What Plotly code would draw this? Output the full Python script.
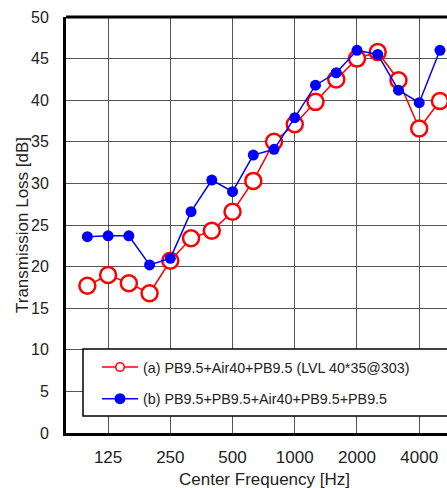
import plotly.graph_objects as go

freqs = ["100", "125", "160", "200", "250", "315", "400", "500", "630", "800",
         "1000", "1250", "1600", "2000", "2500", "3150", "4000", "5000"]
tl_a = [17.7, 19.0, 18.0, 16.8, 20.7, 23.4, 24.3, 26.6, 30.3, 35.0,
        37.1, 39.8, 42.5, 45.0, 45.8, 42.4, 36.6, 39.9]
tl_b = [23.6, 23.7, 23.7, 20.2, 21.0, 26.6, 30.4, 29.0, 33.4, 34.1,
        37.9, 41.8, 43.3, 46.0, 45.5, 41.2, 39.7, 46.0]
tick_labels = ["125", "250", "500", "1000", "2000", "4000"]
name_a = "(a) PB9.5+Air40+PB9.5 (LVL 40*35@303)"
name_b = "(b) PB9.5+PB9.5+Air40+PB9.5+PB9.5"

W, H = 447, 488
ML, MR, MT, MB = 66, 0, 17, 55
PW, PH = W - ML - MR, H - MT - MB

def px_x(p):
    return (p - ML) / PW

def px_y(p):
    return (H - MB - p) / PH

FONT = "Liberation Sans, Arial, sans-serif"
RED, BLUE = "#ff0000", "#0000ff"

fig = go.Figure()
# data traces
fig.add_trace(go.Scatter(
    x=freqs, y=tl_a, name=name_a, mode="lines+markers", showlegend=False,
    line=dict(color=RED, width=1.5),
    marker=dict(symbol="circle", size=16, color="white",
                line=dict(color=RED, width=2.5)),
))
fig.add_trace(go.Scatter(
    x=freqs, y=tl_b, name=name_b, mode="lines+markers", showlegend=False,
    line=dict(color=BLUE, width=1.5),
    marker=dict(symbol="circle", size=11, color=BLUE),
))
# legend entries (small legend symbols as in the reference)
fig.add_trace(go.Scatter(
    x=[None], y=[None], name=name_a, mode="lines+markers", legendgroup="a",
    line=dict(color=RED, width=1.5),
    marker=dict(symbol="circle", size=8.5, color="white",
                line=dict(color=RED, width=1.5)),
))
fig.add_trace(go.Scatter(
    x=[None], y=[None], name=name_b, mode="lines+markers", legendgroup="b",
    line=dict(color=BLUE, width=1.5),
    marker=dict(symbol="circle", size=11, color=BLUE),
))

fig.update_layout(
    width=W, height=H,
    margin=dict(l=ML, r=MR, t=MT, b=MB, pad=0),
    paper_bgcolor="white", plot_bgcolor="white",
    font=dict(family=FONT, color="#222222", size=16),
    showlegend=True,
    legend=dict(x=px_x(97), y=px_y(383.3), xanchor="left", yanchor="middle",
                bgcolor="rgba(0,0,0,0)", borderwidth=0,
                font=dict(size=14.3, color="#222222"),
                tracegroupgap=10, itemwidth=36),
    xaxis=dict(type="category", categoryorder="array", categoryarray=freqs,
               range=[-1.03, 17.34], tickvals=tick_labels, ticktext=tick_labels,
               showgrid=True, gridcolor="#555555", gridwidth=1,
               showline=True, linecolor="black", linewidth=3,
               ticks="", ticklabelstandoff=7, tickfont=dict(size=17),
               zeroline=False, fixedrange=True),
    yaxis=dict(range=[0, 50], tickvals=[0, 5, 10, 15, 20, 25, 30, 35, 40, 45, 50],
               showgrid=True, gridcolor="#555555", gridwidth=1,
               showline=True, linecolor="black", linewidth=3,
               ticks="", ticklabelstandoff=11, tickfont=dict(size=16),
               zeroline=False, fixedrange=True),
    shapes=[
        dict(type="line", xref="paper", yref="paper", x0=0, x1=1.05, y0=1, y1=1,
             line=dict(color="black", width=3), layer="above"),
        dict(type="rect", xref="paper", yref="paper",
             x0=px_x(83), x1=1.05, y0=px_y(416), y1=px_y(349),
             fillcolor="white", line=dict(color="black", width=1.5), layer="above"),
    ],
    annotations=[
        dict(text="Transmission Loss [dB]", xref="paper", yref="paper",
             x=px_x(22), y=0.5, textangle=-90, showarrow=False,
             xanchor="center", yanchor="middle", font=dict(size=17, color="#222222")),
        dict(text="Center Frequency [Hz]", xref="paper", yref="paper",
             x=px_x(264), y=px_y(479), showarrow=False,
             xanchor="center", yanchor="middle", font=dict(size=17, color="#222222")),
    ],
)

fig.write_html("out.html", config={"displayModeBar": False})
